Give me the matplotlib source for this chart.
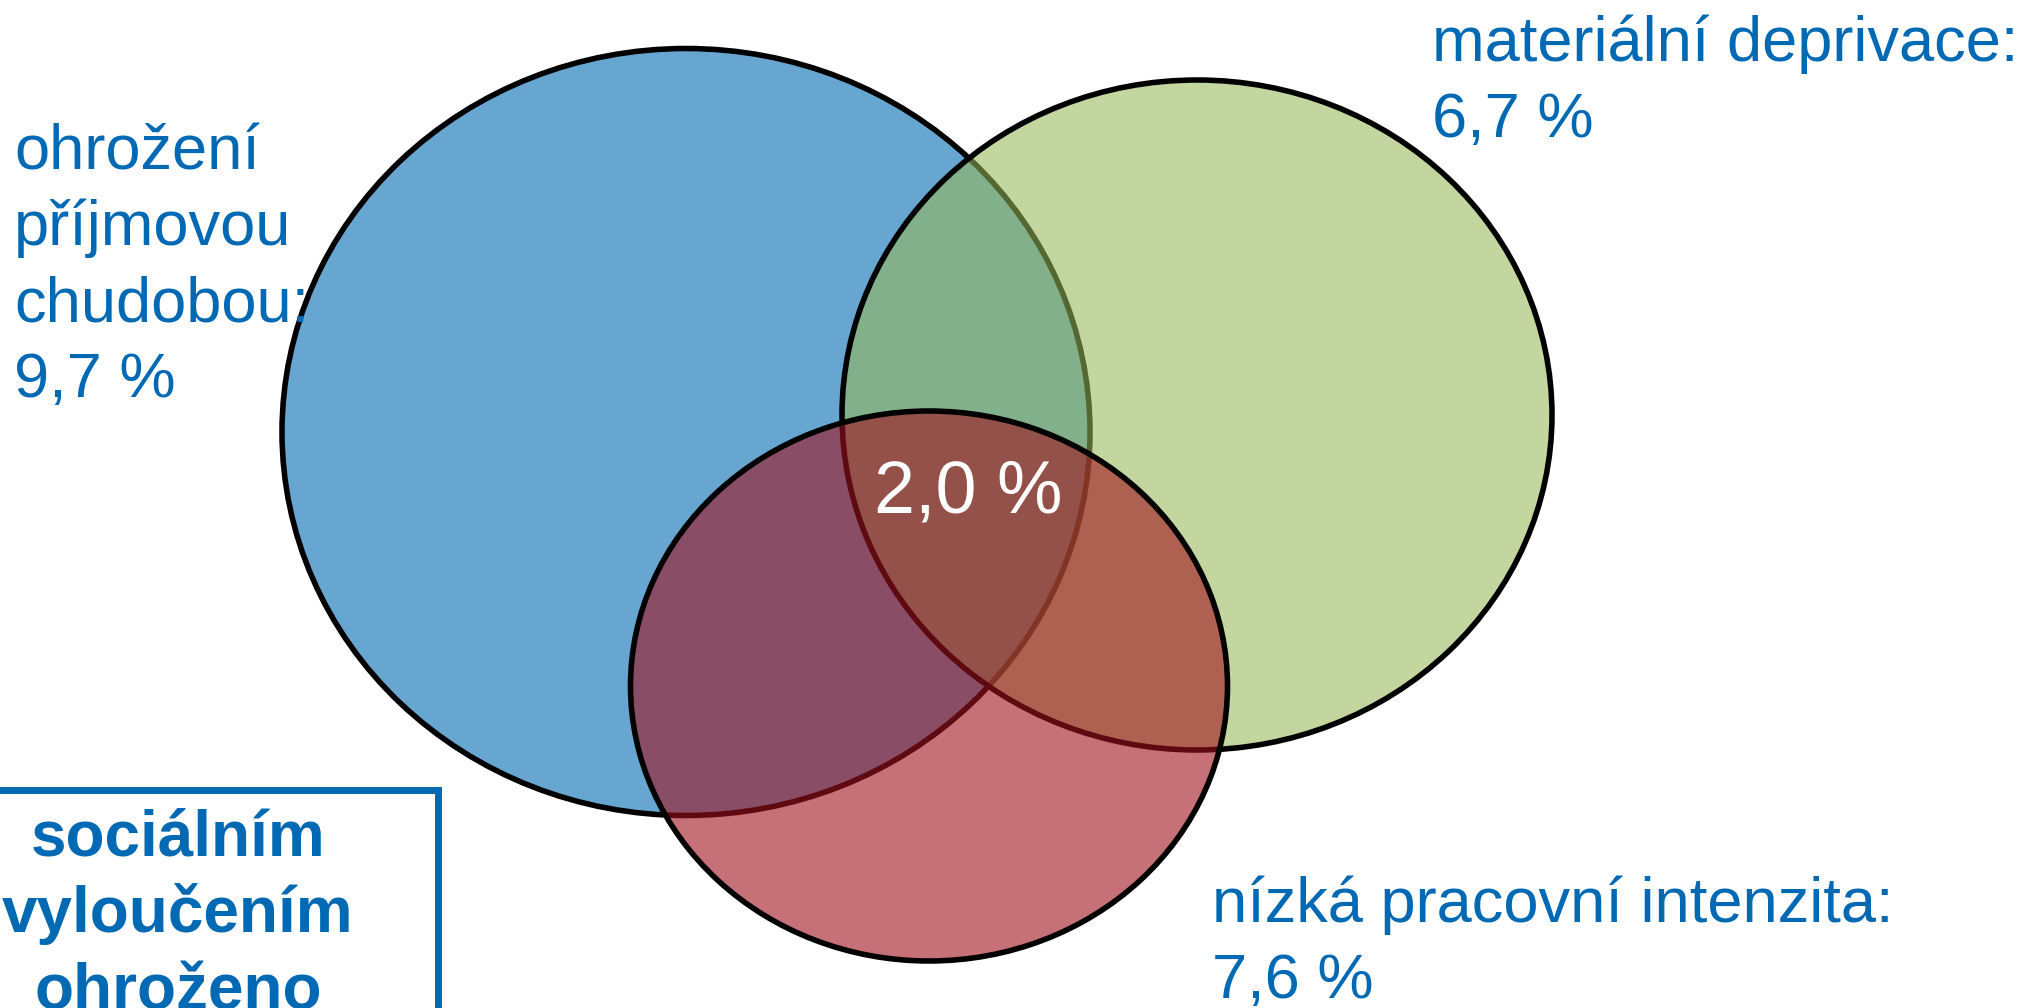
#!/usr/bin/env python
"""Venn diagram: ohrožení chudobou nebo sociálním vyloučením (EU-SILC složky)."""
import matplotlib

matplotlib.use("Agg")
import matplotlib.pyplot as plt
from matplotlib.patches import Ellipse, Rectangle

plt.rcParams["font.family"] = ["Liberation Sans", "DejaVu Sans"]

# data
SETS = ["ohrožení příjmovou chudobou", "materiální deprivace", "nízká pracovní intenzita"]
SET_VALUES = [9.7, 6.7, 7.6]
ALL_THREE = 2.0
TITLE_LINES = ["sociálním", "vyloučením", "ohroženo"]

# layout (pixel coords, y down): centre x, centre y, width, height
ELLIPSES = [(686, 432, 808, 767), (1197, 415, 710, 670), (929, 686, 597, 550)]
FILLS = [("#67A6D0", 1.0), ("#98B857", 0.57), ("#A0121E", 0.6)]
TEXT_BLUE = "#0069B4"


def fmt(v):
    return f"{v:.1f}".replace(".", ",") + " %"


W, H = 2028, 1008
fig = plt.figure(figsize=(W / 100, H / 100), dpi=100)
ax = fig.add_axes([0, 0, 1, 1])
ax.set_xlim(0, W)
ax.set_ylim(H, 0)
ax.axis("off")

for (cx, cy, w, h), (col, a) in zip(ELLIPSES, FILLS):
    ax.add_patch(Ellipse((cx, cy), w, h, facecolor=col, alpha=a, edgecolor="none"))
    ax.add_patch(Ellipse((cx, cy), w, h, facecolor="none", edgecolor="black", lw=4))

# labels of the three sets
labels = [
    ["ohrožení", "příjmovou", "chudobou:", fmt(SET_VALUES[0])],
    ["materiální deprivace:", fmt(SET_VALUES[1])],
    ["nízká pracovní intenzita:", fmt(SET_VALUES[2])],
]
anchors = [(14, 169), (1432, 61), (1212, 922)]
step = 76
for lines, (x0, y0) in zip(labels, anchors):
    for i, line in enumerate(lines):
        ax.text(x0, y0 + i * step, line, fontsize=45.5, color=TEXT_BLUE,
                ha="left", va="baseline", zorder=5)

ax.text(968, 513, fmt(ALL_THREE), fontsize=53, color="white",
        ha="center", va="baseline", zorder=5)

# boxed title, cut by the figure edge
ax.add_patch(Rectangle((-20, 790), 458, 400, facecolor="none",
                       edgecolor=TEXT_BLUE, lw=5, clip_on=True))
for i, line in enumerate(TITLE_LINES):
    ax.text(178, 855 + i * 77, line, fontsize=46, fontweight="bold",
            color=TEXT_BLUE, ha="center", va="baseline", zorder=5)

fig.savefig("out.png", dpi=100)
